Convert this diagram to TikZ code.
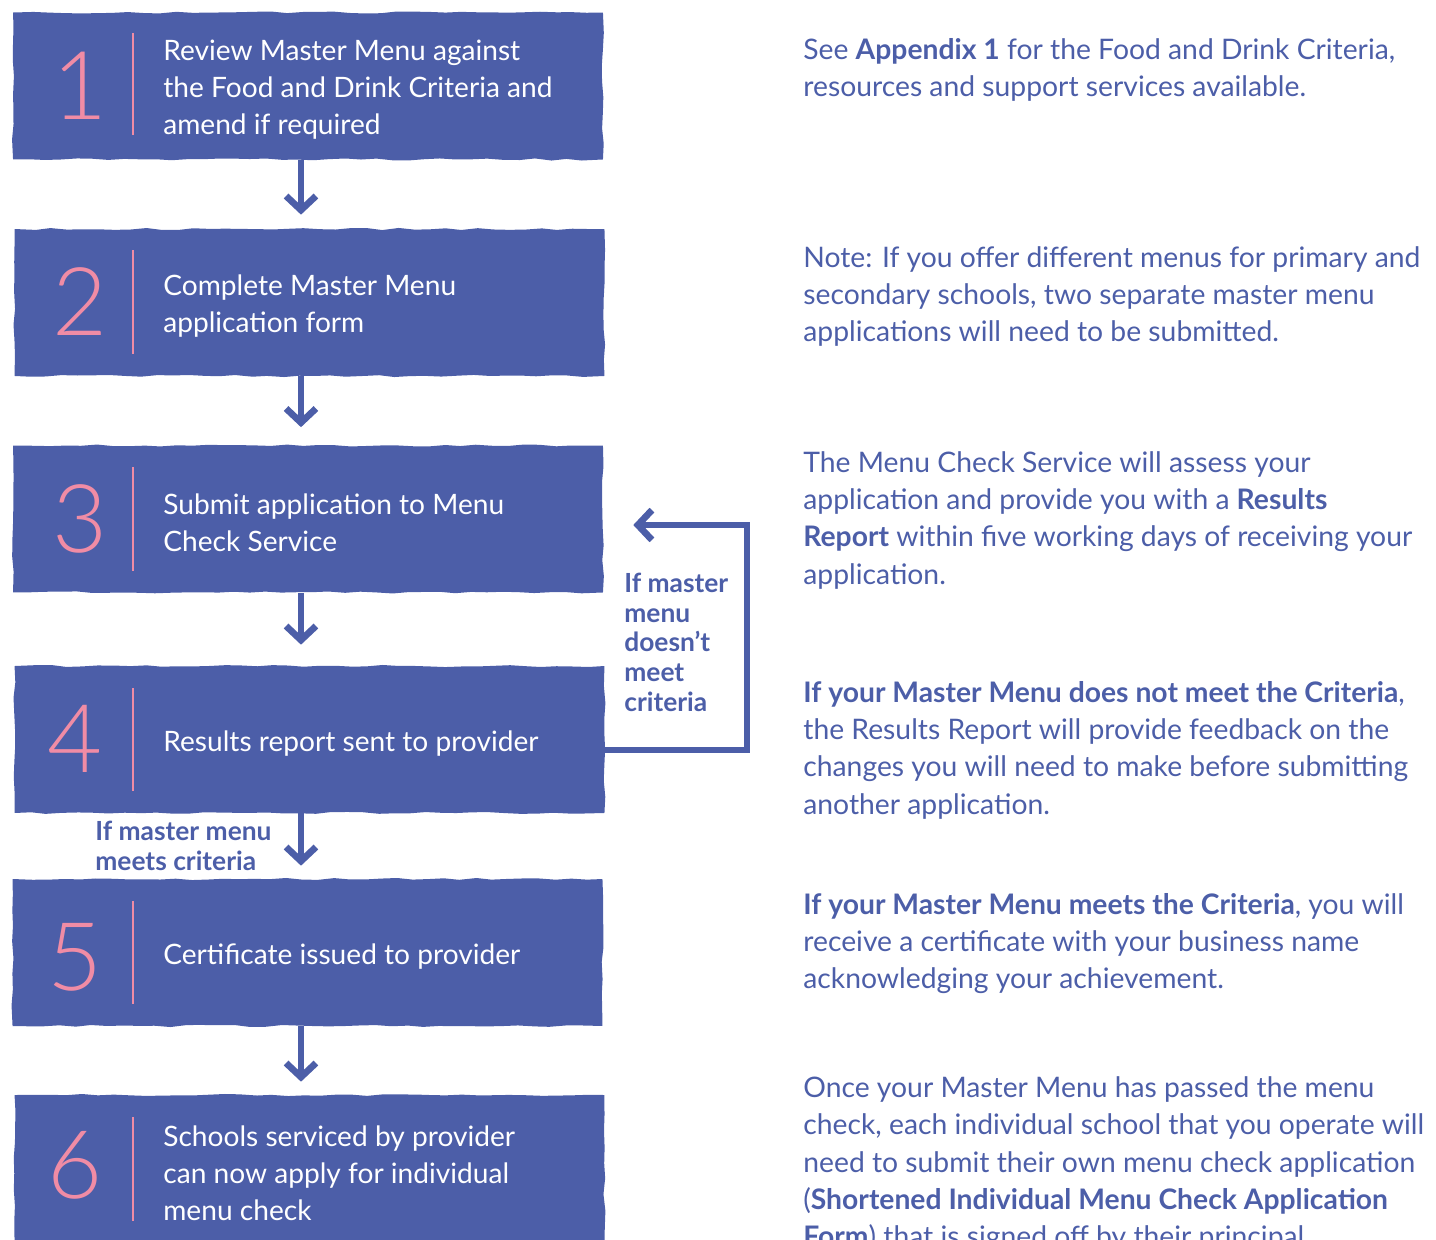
\documentclass[tikz,border=0pt]{standalone}
\usepackage{fontspec}
\setmainfont{Lato}
\newfontfamily\numfont{Lato Light}
\usepackage{xcolor}
\usepackage{tikz}
\usetikzlibrary{positioning}
\usetikzlibrary{arrows.meta}
\usetikzlibrary{decorations.pathmorphing}
\definecolor{menublue}{RGB}{76,94,168}
\definecolor{menupink}{RGB}{240,140,165}
\tikzset{
    stepbox/.style = {fill=menublue, minimum width=11.8cm, minimum height=2.94cm, inner sep=0pt,
        decorate, decoration={random steps, segment length=9pt, amplitude=0.6pt}},
    num/.style = {text=menupink, inner sep=0pt, font=\numfont\fontsize{54}{54}\selectfont},
    divider/.style = {draw=menupink, line width=1.2pt},
    steptext/.style = {text=white, align=left, anchor=west, inner sep=0pt, font=\fontsize{16}{21.1}\selectfont},
    % base west of a multi-line node sits on its last line
    note/.style = {text=menublue, align=left, anchor=base west, inner sep=0pt, font=\fontsize{16.1}{21.2}\selectfont},
    cond/.style = {text=menublue, align=left, anchor=base west, inner sep=0pt, font=\bfseries\fontsize{15}{16.8}\selectfont},
    flow/.style = {draw=menublue, line width=3.8pt, -{Straight Barb[length=8pt, width=17pt]}}
}

\begin{document}
\begin{tikzpicture}[x=0.02cm, y=-0.02cm]
    \pgfmathsetseed{7}
    \clip (0,0) rectangle (1436,1240);

    % the six steps
    \node [stepbox] (box1) at (308, 86) {};
    \node [stepbox] (box2) at (309.5, 302.5) {};
    \node [stepbox] (box3) at (308, 519) {};
    \node [stepbox] (box4) at (309.5, 739.5) {};
    \node [stepbox] (box5) at (307.5, 952.5) {};
    \node [stepbox] (box6) at (309.5, 1168.5) {};

    \node [num] (n1) at (80, 86) {1};
    \node [num] (n2) at (80, 302) {2};
    \node [num] (n3) at (80, 519) {3};
    \node [num] (n4) at (75, 739) {4};
    \node [num] (n5) at (75, 957) {5};
    \node [num] (n6) at (75, 1165) {6};

    \draw [divider] (133, 33) -- (133, 135);
    \draw [divider] (133, 250) -- (133, 354);
    \draw [divider] (133, 467) -- (133, 571);
    \draw [divider] (133, 688) -- (133, 791);
    \draw [divider] (133, 901) -- (133, 1004);
    \draw [divider] (133, 1117) -- (133, 1221);

    \node [steptext] (t1) at (163, 90) {Review Master Menu against\\the Food and Drink Criteria and\\amend if required};
    \node [steptext] (t2) at (163, 306) {Complete Master Menu\\application form};
    \node [steptext] (t3) at (163, 523) {Submit application to Menu\\Check Service};
    \node [steptext] (t4) at (163, 744) {Results report sent to provider};
    \node [steptext] (t5) at (163, 957) {Certificate issued to provider};
    \node [steptext] (t6) at (163, 1173) {Schools serviced by provider\\can now apply for individual\\menu check};

    % connectors
    \coordinate (ax) at (301, 0);
    \coordinate (loop) at (747, 750);
    \draw [flow, shorten >=0.28cm] (box1.south -| ax) -- (box2.north -| ax);
    \draw [flow, shorten >=0.36cm] (box2.south -| ax) -- (box3.north -| ax);
    \draw [flow, shorten >=0.42cm] (box3.south -| ax) -- (box4.north -| ax);
    \draw [flow, shorten >=0.26cm] (box4.south -| ax) -- (box5.north -| ax);
    \draw [flow, shorten >=0.26cm] (box5.south -| ax) -- (box6.north -| ax);
    \draw [flow] (box4.east |- loop) -- (loop) |- ([xshift=0.6cm, yshift=-0.12cm]box3.east);

    \node [cond] (c1) at (624, 711) {If master\\menu\\doesn't\\meet\\criteria};
    \node [cond] (c2) at (95, 870) {If master menu\\meets criteria};

    % notes on the right
    \node [note] (p1) at (803, 96.4) {See \textbf{Appendix 1} for the Food and Drink Criteria,\\resources and support services available.};
    \node [note] (p2) at (803, 341.8) {Note: If you offer different menus for primary and\\secondary schools, two separate master menu\\applications will need to be submitted.};
    \node [note] (p3) at (803, 584.2) {The Menu Check Service will assess your\\application and provide you with a \textbf{Results}\\\textbf{Report} within five working days of receiving your\\application.};
    \node [note] (p4) at (803, 814.2) {\textbf{If your Master Menu does not meet the Criteria},\\the Results Report will provide feedback on the\\changes you will need to make before submitting\\another application.};
    \node [note] (p5) at (803, 988.8) {\textbf{If your Master Menu meets the Criteria}, you will\\receive a certificate with your business name\\acknowledging your achievement.};
    \node [note] (p6) at (803, 1246.6) {Once your Master Menu has passed the menu\\check, each individual school that you operate will\\need to submit their own menu check application\\(\textbf{Shortened Individual Menu Check Application}\\\textbf{Form}) that is signed off by their principal};
\end{tikzpicture}
\end{document}
